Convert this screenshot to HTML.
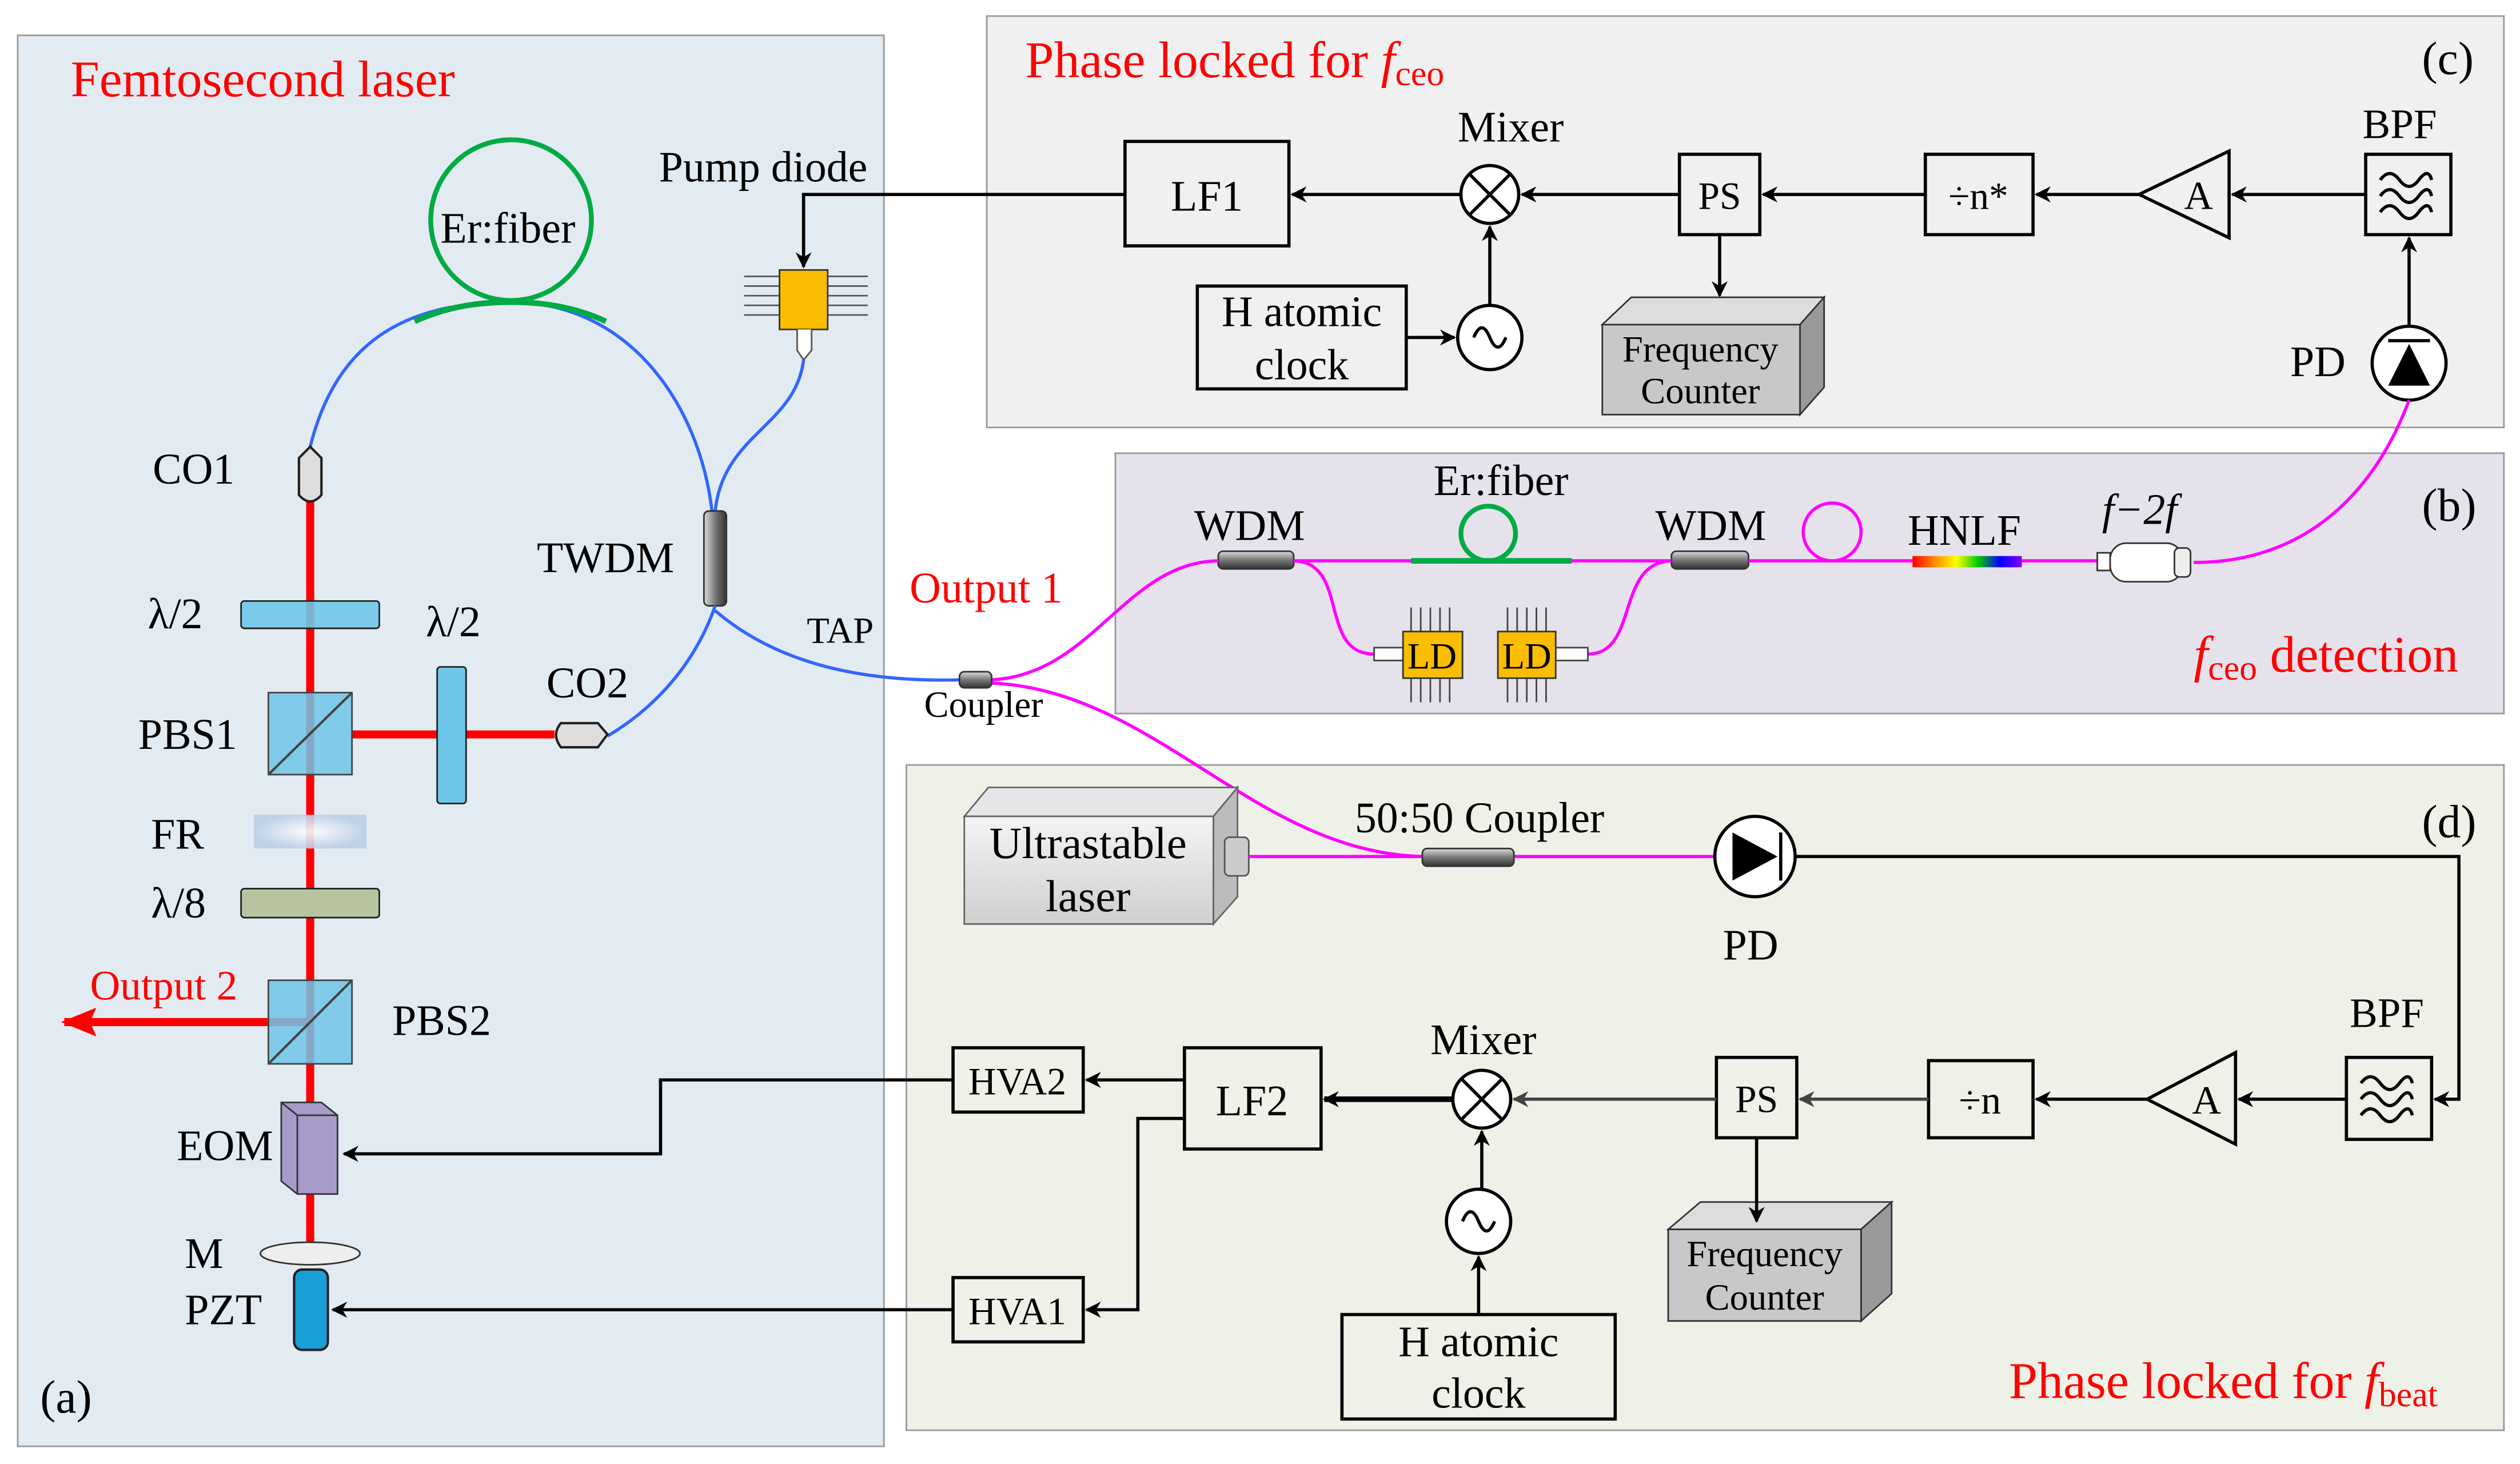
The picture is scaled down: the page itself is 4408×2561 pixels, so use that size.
<!DOCTYPE html>
<html><head><meta charset="utf-8"><style>
html,body{margin:0;padding:0;background:#fff}
svg{display:block}
text{font-family:"Liberation Serif",serif;fill:#000}
.r{fill:#f00}
</style></head><body>
<svg width="4408" height="2561" viewBox="0 0 1568 911" xmlns="http://www.w3.org/2000/svg">
<defs>
<marker id="ar" markerWidth="10" markerHeight="10" refX="9" refY="5" orient="auto" markerUnits="userSpaceOnUse"><path d="M0,0 L10,5 L0,10 L3,5 z" fill="#000"/></marker>
<marker id="arg" markerWidth="10" markerHeight="10" refX="9" refY="5" orient="auto" markerUnits="userSpaceOnUse"><path d="M0,0 L10,5 L0,10 L3,5 z" fill="#444"/></marker>
<marker id="arr" markerWidth="22" markerHeight="18" refX="20" refY="9" orient="auto" markerUnits="userSpaceOnUse"><path d="M0,0 L22,9 L0,18 L4,9 z" fill="#f00"/></marker>
<linearGradient id="cyl" x1="0" y1="0" x2="0" y2="1"><stop offset="0" stop-color="#ddd"/><stop offset="0.5" stop-color="#777"/><stop offset="1" stop-color="#333"/></linearGradient>
<linearGradient id="cylv" x1="0" y1="0" x2="1" y2="0"><stop offset="0" stop-color="#ddd"/><stop offset="0.5" stop-color="#777"/><stop offset="1" stop-color="#333"/></linearGradient>
<linearGradient id="rb" x1="0" y1="0" x2="1" y2="0"><stop offset="0" stop-color="#f00"/><stop offset="0.2" stop-color="#f80"/><stop offset="0.4" stop-color="#ff0"/><stop offset="0.6" stop-color="#0c0"/><stop offset="0.8" stop-color="#00f"/><stop offset="1" stop-color="#80f"/></linearGradient>
<radialGradient id="fr"><stop offset="0" stop-color="#fff"/><stop offset="1" stop-color="#b9cfe6"/></radialGradient>
<linearGradient id="box" x1="0" y1="0" x2="0" y2="1"><stop offset="0" stop-color="#f4f4f4"/><stop offset="1" stop-color="#cfcfcf"/></linearGradient>
</defs>

<!-- panels -->
<rect x="11" y="22" width="539" height="878" fill="#e3ebf2" stroke="#999"/>
<rect x="614" y="10" width="944" height="256" fill="#f0f0f0" stroke="#999"/>
<rect x="694" y="282" width="864" height="162" fill="#e6e2ec" stroke="#999"/>
<rect x="564" y="476" width="994" height="414" fill="#eef1e8" stroke="#999"/>

<!-- (a) -->
<text x="44" y="60" font-size="32" class="r">Femtosecond laser</text>
<circle cx="318" cy="137" r="50" fill="none" stroke="#0a4" stroke-width="3"/>
<text x="316" y="151" font-size="27" text-anchor="middle">Er:fiber</text>
<path d="M193,278 C210,210 255,188 318,188 C390,188 435,250 443,318" fill="none" stroke="#36f" stroke-width="2"/>
<path d="M258,200 C280,190 300,188 318,188 C340,188 360,192 377,200" fill="none" stroke="#0a4" stroke-width="3.5"/>
<text x="410" y="113" font-size="27">Pump diode</text>
<g stroke="#555" stroke-width="1"><path d="M463,172H485M463,178H485M463,184H485M463,190H485M463,196H485M515,172H540M515,178H540M515,184H540M515,190H540M515,196H540"/></g>
<rect x="485" y="168" width="30" height="37" fill="#fbbd00" stroke="#333"/>
<path d="M496,205 V218 L500,224 L505,218 V205" fill="#fff" stroke="#555"/>
<path d="M500,224 C495,265 450,270 445,318" fill="none" stroke="#36f" stroke-width="2"/>
<rect x="438" y="318" width="14" height="59" rx="3" fill="url(#cylv)" stroke="#333"/>
<text x="334" y="356" font-size="27">TWDM</text>
<path d="M445,377 C430,420 400,445 378,458" fill="none" stroke="#36f" stroke-width="2"/>
<path d="M445,380 C480,410 530,425 598,423" fill="none" stroke="#36f" stroke-width="2"/>
<text x="502" y="400" font-size="23">TAP</text>

<line x1="193" y1="312" x2="193" y2="775" stroke="#f00" stroke-width="5"/>
<path d="M186,285 L193,278 L200,285 V308 Q193,316 186,308 z" fill="#ddd" stroke="#222" stroke-width="1.5"/>
<text x="95" y="301" font-size="27">CO1</text>
<rect x="150" y="374" width="86" height="17" rx="2" fill="#6ec6e8" stroke="#222" fill-opacity="0.9"/>
<text x="92" y="391" font-size="27">λ/2</text>
<line x1="219" y1="457" x2="345" y2="457" stroke="#f00" stroke-width="5"/>
<rect x="167" y="431" width="52" height="51" fill="#6ec6e8" stroke="#444" fill-opacity="0.85"/>
<line x1="167" y1="482" x2="219" y2="431" stroke="#444" stroke-width="1.5"/>
<text x="86" y="466" font-size="27">PBS1</text>
<rect x="272" y="415" width="18" height="85" rx="2" fill="#6ec6e8" stroke="#222"/>
<text x="265" y="396" font-size="27">λ/2</text>
<path d="M349,450 H372 L378,457 L372,465 H349 Q343,457 349,450 z" fill="#ddd" stroke="#222" stroke-width="1.5"/>
<text x="340" y="434" font-size="27">CO2</text>
<rect x="158" y="507" width="70" height="21" fill="url(#fr)" opacity="0.9"/>
<text x="94" y="528" font-size="27">FR</text>
<rect x="150" y="553" width="86" height="18" rx="2" fill="#b8c4a0" stroke="#222"/>
<text x="94" y="571" font-size="27">λ/8</text>
<line x1="193" y1="636" x2="40" y2="636" stroke="#f00" stroke-width="5" marker-end="url(#arr)"/>
<rect x="167" y="610" width="52" height="52" fill="#6ec6e8" stroke="#444" fill-opacity="0.85"/>
<line x1="167" y1="662" x2="219" y2="610" stroke="#444" stroke-width="1.5"/>
<text x="56" y="622" font-size="26" class="r">Output 2</text>
<text x="244" y="644" font-size="27">PBS2</text>
<path d="M175,686 H200 L210,694 V743 H185 L175,735 z" fill="#a89ac8" stroke="#333"/>
<path d="M175,686 L185,694 H210 M185,694 V743" fill="none" stroke="#333"/>
<text x="110" y="722" font-size="27">EOM</text>
<ellipse cx="193" cy="780" rx="31" ry="7" fill="#eee" stroke="#333"/>
<text x="115" y="789" font-size="27">M</text>
<rect x="183" y="790" width="21" height="50" rx="5" fill="#1aa0d8" stroke="#222" stroke-width="1.5"/>
<text x="115" y="824" font-size="27">PZT</text>
<text x="25" y="879" font-size="29">(a)</text>

<!-- (c) -->
<text x="638" y="48" font-size="32" class="r">Phase locked for <tspan font-style="italic">f</tspan><tspan font-size="22" dy="5" class="r">ceo</tspan></text>
<text x="1507" y="46" font-size="29">(c)</text>
<path d="M700,121 H500 V166" fill="none" stroke="#000" stroke-width="2" marker-end="url(#ar)"/>
<rect x="700" y="88" width="102" height="65" fill="none" stroke="#000" stroke-width="2"/>
<text x="751" y="131" font-size="27" text-anchor="middle">LF1</text>
<line x1="909" y1="121" x2="804" y2="121" stroke="#000" stroke-width="2" marker-end="url(#ar)"/>
<circle cx="927" cy="121" r="18" fill="#fff" stroke="#000" stroke-width="2"/>
<path d="M914,108 L940,134 M940,108 L914,134" stroke="#000" stroke-width="2"/>
<text x="907" y="88" font-size="27">Mixer</text>
<line x1="1045" y1="121" x2="947" y2="121" stroke="#000" stroke-width="2" marker-end="url(#ar)"/>
<rect x="1045" y="96" width="50" height="50" fill="none" stroke="#000" stroke-width="2"/>
<text x="1070" y="130" font-size="24" text-anchor="middle">PS</text>
<line x1="1198" y1="121" x2="1097" y2="121" stroke="#000" stroke-width="2" marker-end="url(#ar)"/>
<rect x="1198" y="96" width="67" height="50" fill="none" stroke="#000" stroke-width="2"/>
<text x="1231" y="130" font-size="24" text-anchor="middle">÷n*</text>
<line x1="1331" y1="121" x2="1267" y2="121" stroke="#000" stroke-width="2" marker-end="url(#ar)"/>
<path d="M1331,121 L1387,94 V148 z" fill="none" stroke="#000" stroke-width="2"/>
<text x="1368" y="130" font-size="25" text-anchor="middle">A</text>
<line x1="1472" y1="121" x2="1389" y2="121" stroke="#000" stroke-width="2" marker-end="url(#ar)"/>
<rect x="1472" y="96" width="53" height="50" fill="none" stroke="#000" stroke-width="2"/>
<path d="M1481,112 q6,-8 12,0 t12,0 t8,0 M1481,122 q6,-8 12,0 t12,0 t8,0 M1481,132 q6,-8 12,0 t12,0 t8,0" fill="none" stroke="#000" stroke-width="2"/>
<text x="1470" y="86" font-size="26">BPF</text>
<line x1="1499" y1="203" x2="1499" y2="148" stroke="#000" stroke-width="2" marker-end="url(#ar)"/>
<circle cx="1499" cy="226" r="23" fill="#fff" stroke="#000" stroke-width="2"/>
<path d="M1486,240 L1499,214 L1512,240 z" fill="#000"/><line x1="1486" y1="212" x2="1512" y2="212" stroke="#000" stroke-width="2"/>
<text x="1425" y="234" font-size="27">PD</text>
<line x1="927" y1="190" x2="927" y2="141" stroke="#000" stroke-width="2" marker-end="url(#ar)"/>
<circle cx="927" cy="210" r="20" fill="#fff" stroke="#000" stroke-width="2"/>
<path d="M917,210 q5,-12 10,0 t10,0" fill="none" stroke="#000" stroke-width="2"/>
<line x1="875" y1="210" x2="905" y2="210" stroke="#000" stroke-width="2" marker-end="url(#ar)"/>
<rect x="745" y="178" width="130" height="64" fill="none" stroke="#000" stroke-width="2"/>
<text x="810" y="203" font-size="27" text-anchor="middle">H atomic</text>
<text x="810" y="236" font-size="27" text-anchor="middle">clock</text>
<path d="M997,202 L1015,185 H1135 L1120,202 z" fill="#ddd" stroke="#333"/>
<path d="M1120,202 L1135,185 V241 L1120,258 z" fill="#999" stroke="#333"/>
<rect x="997" y="202" width="123" height="56" fill="#c8c8c8" stroke="#333"/>
<text x="1058" y="225" font-size="23" text-anchor="middle">Frequency</text>
<text x="1058" y="251" font-size="23" text-anchor="middle">Counter</text>
<line x1="1070" y1="146" x2="1070" y2="184" stroke="#000" stroke-width="2" marker-end="url(#ar)"/>
<path d="M1365,350 C1440,350 1480,300 1499,249" fill="none" stroke="#f0f" stroke-width="2"/>

<!-- (b) -->
<text x="1507" y="324" font-size="29">(b)</text>
<line x1="805" y1="349" x2="1040" y2="349" stroke="#f0f" stroke-width="2"/>
<line x1="878" y1="349" x2="978" y2="349" stroke="#0a4" stroke-width="3.5"/>
<circle cx="926" cy="332" r="17" fill="none" stroke="#0a4" stroke-width="3"/>
<text x="892" y="308" font-size="27">Er:fiber</text>
<rect x="758" y="343" width="47" height="11" rx="3" fill="url(#cyl)" stroke="#333"/>
<text x="743" y="336" font-size="27">WDM</text>
<rect x="1040" y="343" width="48" height="11" rx="3" fill="url(#cyl)" stroke="#333"/>
<text x="1030" y="336" font-size="27">WDM</text>
<line x1="1088" y1="349" x2="1190" y2="349" stroke="#f0f" stroke-width="2"/>
<circle cx="1140" cy="331" r="18" fill="none" stroke="#f0f" stroke-width="2"/>
<rect x="1190" y="346" width="68" height="7" fill="url(#rb)"/>
<text x="1187" y="339" font-size="27">HNLF</text>
<line x1="1258" y1="349" x2="1305" y2="349" stroke="#f0f" stroke-width="2"/>
<rect x="1305" y="344" width="8" height="11" fill="#fff" stroke="#333"/>
<rect x="1313" y="338" width="45" height="24" rx="10" fill="#fff" stroke="#333"/>
<rect x="1353" y="341" width="10" height="18" rx="3" fill="#eee" stroke="#333"/>
<text x="1308" y="326" font-size="27" font-style="italic">f−2f</text>
<path d="M805,349 C840,350 820,407 855,407" fill="none" stroke="#f0f" stroke-width="2"/>
<path d="M1040,349 C1005,350 1020,407 988,407" fill="none" stroke="#f0f" stroke-width="2"/>
<g stroke="#444" stroke-width="1"><path d="M878,378V393M884,378V393M890,378V393M896,378V393M902,378V393M878,422V437M884,422V437M890,422V437M896,422V437M902,422V437M938,378V393M944,378V393M950,378V393M956,378V393M962,378V393M938,422V437M944,422V437M950,422V437M956,422V437M962,422V437"/></g>
<rect x="855" y="403" width="18" height="8" fill="#fff" stroke="#444"/>
<rect x="968" y="403" width="20" height="8" fill="#fff" stroke="#444"/>
<rect x="873" y="393" width="37" height="29" fill="#fbbd00" stroke="#333"/>
<rect x="932" y="393" width="36" height="29" fill="#fbbd00" stroke="#333"/>
<text x="891" y="416" font-size="23" text-anchor="middle">LD</text>
<text x="950" y="416" font-size="23" text-anchor="middle">LD</text>
<text x="1365" y="418" font-size="32" class="r"><tspan font-style="italic" class="r">f</tspan><tspan font-size="22" dy="5" class="r">ceo</tspan><tspan dy="-5" class="r"> detection</tspan></text>
<text x="566" y="375" font-size="27" class="r">Output 1</text>
<path d="M617,423 C680,420 700,350 758,349" fill="none" stroke="#f0f" stroke-width="2"/>
<path d="M617,425 C720,430 780,530 885,533" fill="none" stroke="#f0f" stroke-width="2"/>
<rect x="597" y="418" width="20" height="10" rx="3" fill="url(#cyl)" stroke="#333"/>
<text x="575" y="446" font-size="23">Coupler</text>

<!-- (d) -->
<text x="1507" y="521" font-size="29">(d)</text>
<path d="M600,508 L615,490 H770 L755,508 z" fill="#e6e6e6" stroke="#666"/>
<path d="M755,508 L770,490 V558 L755,575 z" fill="#bbb" stroke="#666"/>
<rect x="600" y="508" width="155" height="67" fill="url(#box)" stroke="#666"/>
<text x="677" y="534" font-size="28" text-anchor="middle">Ultrastable</text>
<text x="677" y="567" font-size="28" text-anchor="middle">laser</text>
<rect x="762" y="521" width="15" height="24" rx="3" fill="#ccc" stroke="#555"/>
<line x1="777" y1="533" x2="885" y2="533" stroke="#f0f" stroke-width="2"/>
<line x1="942" y1="533" x2="1068" y2="533" stroke="#f0f" stroke-width="2"/>
<rect x="885" y="528" width="57" height="11" rx="3" fill="url(#cyl)" stroke="#333"/>
<text x="843" y="518" font-size="27">50:50 Coupler</text>
<path d="M1117,533 H1530 V684 H1515" fill="none" stroke="#000" stroke-width="2" marker-end="url(#ar)"/>
<circle cx="1092" cy="533" r="25" fill="#fff" stroke="#000" stroke-width="2"/>
<path d="M1078,518 L1106,533 L1078,548 z" fill="#000"/><line x1="1108" y1="518" x2="1108" y2="548" stroke="#000" stroke-width="2"/>
<text x="1072" y="597" font-size="27">PD</text>
<rect x="1460" y="658" width="53" height="51" fill="none" stroke="#000" stroke-width="2"/>
<path d="M1469,674 q6,-8 12,0 t12,0 t8,0 M1469,684 q6,-8 12,0 t12,0 t8,0 M1469,694 q6,-8 12,0 t12,0 t8,0" fill="none" stroke="#000" stroke-width="2"/>
<text x="1462" y="639" font-size="26">BPF</text>
<line x1="1460" y1="684" x2="1393" y2="684" stroke="#000" stroke-width="2" marker-end="url(#ar)"/>
<path d="M1336,684 L1391,655 V712 z" fill="none" stroke="#000" stroke-width="2"/>
<text x="1373" y="693" font-size="25" text-anchor="middle">A</text>
<line x1="1336" y1="684" x2="1267" y2="684" stroke="#000" stroke-width="2" marker-end="url(#ar)"/>
<rect x="1200" y="660" width="65" height="48" fill="none" stroke="#000" stroke-width="2"/>
<text x="1232" y="693" font-size="25" text-anchor="middle">÷n</text>
<line x1="1200" y1="684" x2="1120" y2="684" stroke="#444" stroke-width="2" marker-end="url(#arg)"/>
<rect x="1068" y="658" width="50" height="50" fill="none" stroke="#000" stroke-width="2"/>
<text x="1093" y="692" font-size="24" text-anchor="middle">PS</text>
<line x1="1068" y1="684" x2="942" y2="684" stroke="#444" stroke-width="2" marker-end="url(#arg)"/>
<circle cx="922" cy="684" r="18" fill="#fff" stroke="#000" stroke-width="2"/>
<path d="M909,671 L935,697 M935,671 L909,697" stroke="#000" stroke-width="2"/>
<text x="890" y="656" font-size="27">Mixer</text>
<line x1="904" y1="684" x2="824" y2="684" stroke="#000" stroke-width="3.5" marker-end="url(#ar)"/>
<rect x="737" y="652" width="85" height="63" fill="none" stroke="#000" stroke-width="2"/>
<text x="779" y="694" font-size="27" text-anchor="middle">LF2</text>
<line x1="737" y1="672" x2="676" y2="672" stroke="#000" stroke-width="2" marker-end="url(#ar)"/>
<rect x="593" y="652" width="81" height="40" fill="none" stroke="#000" stroke-width="2"/>
<text x="633" y="681" font-size="24" text-anchor="middle">HVA2</text>
<path d="M593,672 H411 V718 H214" fill="none" stroke="#000" stroke-width="2" marker-end="url(#ar)"/>
<path d="M737,696 H708 V815 H676" fill="none" stroke="#000" stroke-width="2" marker-end="url(#ar)"/>
<rect x="593" y="795" width="81" height="40" fill="none" stroke="#000" stroke-width="2"/>
<text x="633" y="824" font-size="24" text-anchor="middle">HVA1</text>
<line x1="593" y1="815" x2="207" y2="815" stroke="#000" stroke-width="2" marker-end="url(#ar)"/>
<line x1="922" y1="740" x2="922" y2="704" stroke="#000" stroke-width="2" marker-end="url(#ar)"/>
<circle cx="920" cy="760" r="20" fill="#fff" stroke="#000" stroke-width="2"/>
<path d="M910,760 q5,-12 10,0 t10,0" fill="none" stroke="#000" stroke-width="2"/>
<line x1="920" y1="818" x2="920" y2="782" stroke="#000" stroke-width="2" marker-end="url(#ar)"/>
<rect x="835" y="818" width="170" height="65" fill="none" stroke="#000" stroke-width="2"/>
<text x="920" y="844" font-size="27" text-anchor="middle">H atomic</text>
<text x="920" y="876" font-size="27" text-anchor="middle">clock</text>
<path d="M1038,765 L1058,748 H1177 L1158,765 z" fill="#ddd" stroke="#333"/>
<path d="M1158,765 L1177,748 V805 L1158,822 z" fill="#999" stroke="#333"/>
<rect x="1038" y="765" width="120" height="57" fill="#c8c8c8" stroke="#333"/>
<text x="1098" y="788" font-size="23" text-anchor="middle">Frequency</text>
<text x="1098" y="815" font-size="23" text-anchor="middle">Counter</text>
<line x1="1093" y1="708" x2="1093" y2="760" stroke="#000" stroke-width="2" marker-end="url(#ar)"/>
<text x="1250" y="870" font-size="32" class="r">Phase locked for <tspan font-style="italic" class="r">f</tspan><tspan font-size="22" dy="5" class="r">beat</tspan></text>
</svg>
</body></html>
